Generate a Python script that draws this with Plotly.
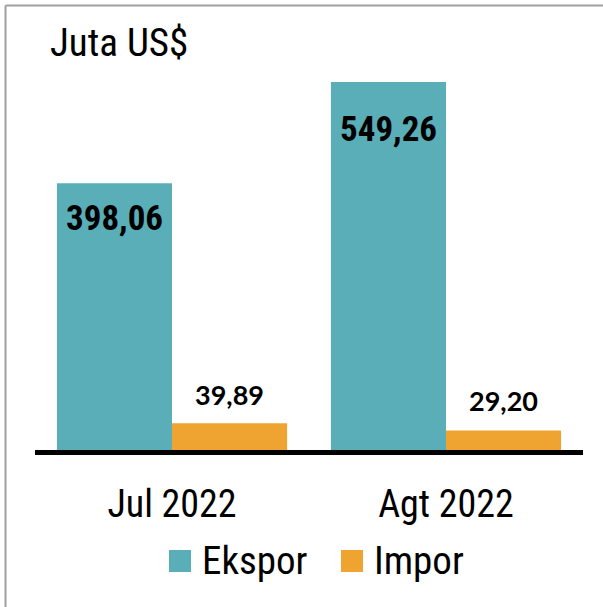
import plotly.graph_objects as go

# ---- data ----
categories = ["Jul 2022", "Agt 2022"]
ekspor = [398.06, 549.26]
impor = [39.89, 29.20]
series_names = ["Ekspor", "Impor"]
title_text = "Juta US$"

# ---- style ----
TEAL = "#59AEB8"
ORANGE = "#EFA330"
NARROW = "Roboto Condensed, Liberation Sans, sans-serif"
LABEL_FONT = "Lato, Open Sans, sans-serif"

W, H = 603, 607
ML, MR, MT, MB = 35, 20, 48, 157
PW, PH = W - ML - MR, H - MT - MB
BARGAP = 0.16

def px_x(p):
    return (p - ML) / PW

def px_y(p):
    return (H - MB - p) / PH

def fmt(v):
    return f"{v:.2f}".replace(".", ",")

fig = go.Figure()
fig.add_trace(go.Bar(x=categories, y=ekspor, name=series_names[0],
                     marker=dict(color=TEAL, line=dict(width=0))))
fig.add_trace(go.Bar(x=categories, y=impor, name=series_names[1],
                     marker=dict(color=ORANGE, line=dict(width=0))))

off = (1 - BARGAP) / 4
annotations = []
inside_shift = [-13, -25]
for i, v in enumerate(ekspor):
    annotations.append(dict(x=i - off, y=v, xref="x", yref="y", text=f"<b>{fmt(v)}</b>",
                            showarrow=False, yanchor="top", yshift=inside_shift[i],
                            font=dict(family=NARROW, size=35, color="black")))
outside_shift = [10, 11]
for i, v in enumerate(impor):
    annotations.append(dict(x=i + off, y=v, xref="x", yref="y", text=f"<b>{fmt(v)}</b>",
                            showarrow=False, yanchor="bottom", yshift=outside_shift[i],
                            font=dict(family=LABEL_FONT, size=27, color="black")))

# manual legend (large square keys)
legend_items = [(series_names[0], TEAL, 169), (series_names[1], ORANGE, 341)]
shapes = []
for name, color, x0 in legend_items:
    shapes.append(dict(type="rect", xref="paper", yref="paper",
                       x0=px_x(x0), x1=px_x(x0 + 22), y0=px_y(572), y1=px_y(550),
                       fillcolor=color, line=dict(width=0)))
    annotations.append(dict(x=px_x(x0 + 31), y=px_y(561), xref="paper", yref="paper",
                            text=name, showarrow=False, xanchor="left", yanchor="middle",
                            font=dict(family=NARROW, size=39, color="black")))

# frame (left + top)
shapes.append(dict(type="line", xref="paper", yref="paper", x0=px_x(5.5), x1=px_x(5.5),
                   y0=px_y(5.5), y1=px_y(H + 2), line=dict(color="#A0A0A0", width=2)))
shapes.append(dict(type="line", xref="paper", yref="paper", x0=px_x(5.5), x1=px_x(W + 2),
                   y0=px_y(5.5), y1=px_y(5.5), line=dict(color="#A0A0A0", width=2)))

fig.update_layout(
    width=W, height=H,
    margin=dict(l=ML, r=MR, t=MT, b=MB, pad=0),
    paper_bgcolor="white", plot_bgcolor="white",
    barmode="group", bargap=BARGAP, bargroupgap=0,
    showlegend=False,
    title=dict(text=title_text, x=50 / W, xanchor="left", xref="container",
               y=1 - 29 / H, yanchor="top", yref="container",
               font=dict(family=NARROW, size=39, color="black")),
    xaxis=dict(showline=True, linecolor="black", linewidth=5, ticks="",
               ticklabelstandoff=16,
               tickfont=dict(family=NARROW, size=38, color="black"),
               showgrid=False, zeroline=False, fixedrange=True),
    yaxis=dict(range=[0, 600], visible=False, showgrid=False, zeroline=False,
               fixedrange=True),
    annotations=annotations,
    shapes=shapes,
)

fig.write_html("out.html", config={"displayModeBar": False},
               post_script="document.body.style.margin='0';")
